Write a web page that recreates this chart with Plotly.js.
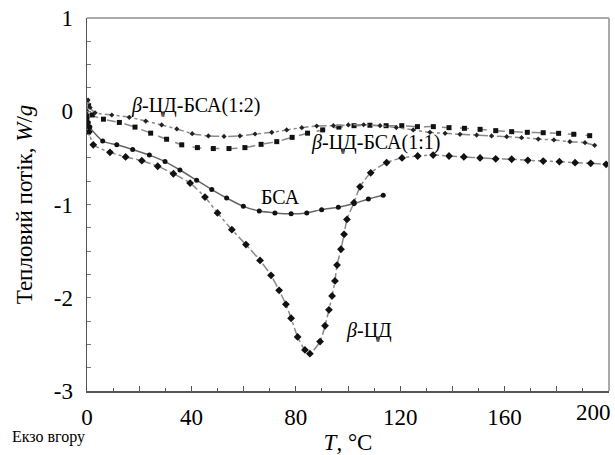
<!DOCTYPE html>
<html>
<head>
<meta charset="utf-8">
<script src="https://cdn.plot.ly/plotly-3.0.1.min.js"></script>
<style>html,body{margin:0;padding:0;background:#fff;}#chart{width:615px;height:455px;}</style>
</head>
<body>
<div id="chart"></div>
<script>
// β-ЦД
const tBetaCD = [0, 0.8, 2.4, 8.8, 14.8, 21, 27.1, 33.1, 39.5, 45.2, 50, 55.5, 60.9, 66.3, 70.5, 73.6, 76.2, 78.2, 80.7, 83.5, 85.4, 89.3, 91.2, 92.7, 93.9, 95, 95.8, 97.3, 98.5, 99.6, 102.3, 104.6, 108.7, 114.8, 120.7, 126.7, 132.6, 138.7, 144.4, 150.6, 156.6, 162.7, 168.9, 174.8, 181, 187, 193, 198.9];
const yBetaCD = [-0.15, -0.22, -0.36, -0.44, -0.49, -0.53, -0.59, -0.67, -0.77, -0.92, -1.09, -1.27, -1.43, -1.60, -1.76, -1.92, -2.07, -2.22, -2.42, -2.56, -2.60, -2.47, -2.30, -2.13, -1.98, -1.82, -1.65, -1.48, -1.32, -1.16, -0.98, -0.81, -0.66, -0.55, -0.50, -0.48, -0.47, -0.48, -0.49, -0.50, -0.51, -0.515, -0.526, -0.534, -0.541, -0.552, -0.558, -0.569];
// БСА
const tBSA = [0, 0.5, 1.1, 6, 11.4, 17.5, 23.9, 29.9, 35.6, 42, 47.8, 53.5, 59.9, 66, 72, 78.2, 84.2, 89.9, 96.3, 102.3, 107.8, 113.5];
const yBSA = [-0.08, -0.12, -0.17, -0.32, -0.36, -0.41, -0.47, -0.54, -0.63, -0.74, -0.84, -0.93, -1.02, -1.07, -1.09, -1.10, -1.09, -1.055, -1.03, -0.99, -0.94, -0.90];
// β-ЦД-БСА(1:1)
const t11 = [0, 0.6, 2, 6.3, 12.4, 18.4, 24.4, 30.5, 36.3, 42.3, 48.4, 54.4, 60.5, 66.7, 72.7, 78.6, 84.5, 90.3, 96.5, 102.3, 108.4, 114.6, 120.6, 126.6, 132.7, 138.7, 144.6, 150.6, 156.6, 162.7, 168.7, 174.8, 180.7, 186.5, 192.6];
const y11 = [-0.05, 0.06, -0.04, -0.085, -0.12, -0.17, -0.235, -0.30, -0.36, -0.39, -0.40, -0.40, -0.39, -0.355, -0.326, -0.28, -0.235, -0.20, -0.17, -0.155, -0.15, -0.155, -0.155, -0.165, -0.165, -0.176, -0.183, -0.194, -0.208, -0.219, -0.226, -0.23, -0.237, -0.247, -0.262];
// β-ЦД-БСА(1:2)
const t12 = [0, 0.4, 1.2, 3.1, 9.5, 16.2, 22.5, 28.6, 34.4, 40.3, 46.5, 52.5, 58.6, 64.4, 70.8, 76.5, 82.3, 88, 94.4, 100.1, 106, 112.3, 118.5, 125, 131.4, 137.2, 142.9, 149.3, 155, 160.8, 166.5, 172.9, 178.9, 185, 190.8, 194.5];
const y12 = [0.0, 0.12, 0.04, -0.016, -0.04, -0.065, -0.105, -0.147, -0.19, -0.24, -0.265, -0.27, -0.265, -0.244, -0.226, -0.20, -0.176, -0.158, -0.155, -0.147, -0.145, -0.155, -0.175, -0.20, -0.226, -0.237, -0.247, -0.255, -0.265, -0.273, -0.283, -0.298, -0.308, -0.326, -0.337, -0.365];

const xTickVals = [0, 20, 40, 60, 80, 100, 120, 140, 160, 180, 200];
const xTickText = ['0', '', '40', '', '80', '', '120', '', '160', '', ''];
const lastXTick = '200';
const yTickVals = [-3, -2.75, -2.5, -2.25, -2, -1.75, -1.5, -1.25, -1, -0.75, -0.5, -0.25, 0, 0.25, 0.5, 0.75, 1];
const yTickText = ['-3', '', '', '', '-2', '', '', '', '-1', '', '', '', '0', '', '', '', '1'];

const labels = [
  {text: '<i>β</i>-ЦД-БСА(1:2)', x: 41.4, y: 0.067},
  {text: '<i>β</i>-ЦД-БСА(1:1)', x: 110.7, y: -0.34},
  {text: 'БСА', x: 74.3, y: -0.92},
  {text: '<i>β</i>-ЦД', x: 108, y: -2.35}
];

const serifFamily = 'Liberation Serif';
const lineCol = '#8a8a8a';
const mk = '#111';

const traces = [
  {x: tBetaCD, y: yBetaCD, mode: 'lines+markers', line: {color: lineCol, width: 1.5, dash: 'dashdot', shape: 'spline', smoothing: 0.6},
   marker: {symbol: 'diamond', size: 6, color: mk}, name: 'β-ЦД'},
  {x: tBSA, y: yBSA, mode: 'lines+markers', line: {color: '#666', width: 1.5, shape: 'spline', smoothing: 0.6},
   marker: {symbol: 'circle', size: 5, color: mk}, name: 'БСА'},
  {x: t11, y: y11, mode: 'lines+markers', line: {color: lineCol, width: 1.5, dash: 'dash', shape: 'spline', smoothing: 0.6},
   marker: {symbol: 'square', size: 5, color: mk}, name: '1:1'},
  {x: t12, y: y12, mode: 'lines+markers', line: {color: lineCol, width: 1.5, dash: 'dashdot', shape: 'spline', smoothing: 0.6},
   marker: {symbol: 'diamond', size: 4, color: '#222'}, name: '1:2'}
];

const annotations = labels.map(l => ({
  text: l.text, x: l.x, y: l.y, xref: 'x', yref: 'y', showarrow: false,
  font: {family: serifFamily, size: 20, color: '#000'}, xanchor: 'center', yanchor: 'middle'
}));
annotations.push({
  text: 'Екзо вгору', xref: 'paper', yref: 'paper', x: -0.148, y: -0.123, xanchor: 'left', yanchor: 'middle',
  showarrow: false, font: {family: serifFamily, size: 16, color: '#000'}
});
annotations.push({
  text: lastXTick, xref: 'paper', yref: 'paper', x: 1.0077, y: -0.02, xanchor: 'right', yanchor: 'top',
  showarrow: false, font: {family: serifFamily, size: 23, color: '#000'}
});

const layout = {
  width: 615, height: 455,
  margin: {l: 87, r: 6, t: 18, b: 64},
  paper_bgcolor: '#fff', plot_bgcolor: '#fff',
  showlegend: false,
  font: {family: serifFamily, size: 20, color: '#000'},
  xaxis: {
    range: [0, 200], tickmode: 'array', tickvals: xTickVals, ticktext: xTickText,
    ticks: 'inside', ticklen: 5, tickcolor: '#555', tickwidth: 1,
    minor: {dtick: 10, tick0: 0, ticks: 'inside', ticklen: 3, tickcolor: '#555'},
    showgrid: false, zeroline: false, showline: true, linecolor: '#555', linewidth: 1.5,
    tickfont: {family: serifFamily, size: 23, color: '#000'}, ticklabelstandoff: 5,
    title: {text: '<i>T</i>, °C', font: {family: serifFamily, size: 23, color: '#000'}, standoff: 20}
  },
  yaxis: {
    range: [-3, 1], tickmode: 'array', tickvals: yTickVals, ticktext: yTickText,
    ticks: 'inside', ticklen: 4, tickcolor: '#777', tickwidth: 1,
    showgrid: false, zeroline: false, showline: true, linecolor: '#555', linewidth: 1.5,
    tickfont: {family: serifFamily, size: 23, color: '#000'}, ticklabelstandoff: 8,
    title: {text: 'Тепловий потік, <i>W</i>/<i>g</i>', font: {family: serifFamily, size: 23, color: '#000'}, standoff: 14}
  },
  shapes: [
    {type: 'line', xref: 'paper', yref: 'paper', x0: 0, x1: 1, y0: 1, y1: 1, line: {color: '#aaa', width: 2}},
    {type: 'line', xref: 'paper', yref: 'paper', x0: 1, x1: 1, y0: 0, y1: 1, line: {color: '#aaa', width: 2}}
  ],
  annotations: annotations
};

Plotly.newPlot('chart', traces, layout, {displayModeBar: false, staticPlot: true}).then(gd => {
  gd.querySelectorAll('text, tspan').forEach(el => {
    const s = el.getAttribute('style');
    if (s && s.indexOf('font-family') >= 0) {
      el.setAttribute('style', s.replace(/font-family:\s*("[^"]*"|'[^']*'|[^;]*)/g, 'font-family: Liberation Serif, serif'));
    }
    if (el.tagName.toLowerCase() === 'text') el.setAttribute('font-family', 'Liberation Serif, serif');
  });
});
</script>
</body>
</html>
